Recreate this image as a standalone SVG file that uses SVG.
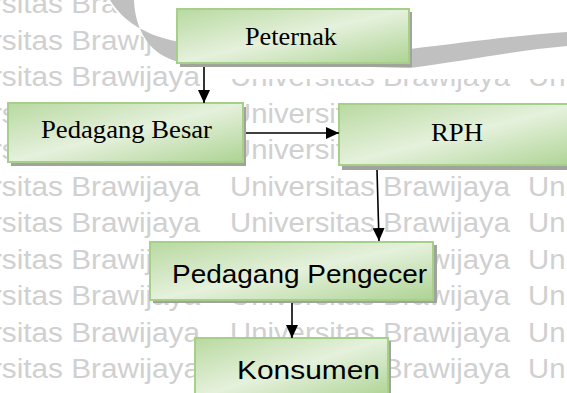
<svg xmlns="http://www.w3.org/2000/svg" xmlns:xlink="http://www.w3.org/1999/xlink" width="567" height="393" viewBox="0 0 567 393">
<style>
.wm{font-family:"Liberation Sans",Arial,sans-serif;font-size:27px;fill:#d0d0d0}
.box{fill:url(#g);stroke:#a6cf8a;stroke-width:2}
.sh{fill:#a0a49a}
.tt{font-family:"Liberation Serif","Times New Roman",serif;font-size:26px;fill:#000}
.ta{font-family:"Liberation Sans",Arial,sans-serif;font-size:26px;fill:#000}
.cn{stroke:#000;stroke-width:1.6;fill:none;marker-end:url(#ah)}
</style>
<defs>
<linearGradient id="g" x1="0" y1="0" x2="1" y2="1">
<stop offset="0" stop-color="#b8d9a0"/>
<stop offset="0.5" stop-color="#e5f1dc"/>
<stop offset="1" stop-color="#add393"/>
</linearGradient>
<marker id="ah" markerWidth="13" markerHeight="12" refX="13" refY="6" orient="auto" markerUnits="userSpaceOnUse">
<path d="M0,0 L13,6 L0,12 Z" fill="#000"/>
</marker>
<g id="wmrow">
<text class="wm" x="-84" y="0" textLength="284" lengthAdjust="spacingAndGlyphs">Universitas Brawijaya</text>
<text class="wm" x="230" y="0" textLength="280" lengthAdjust="spacingAndGlyphs">Universitas Brawijaya</text>
<text class="wm" x="528" y="0" textLength="280" lengthAdjust="spacingAndGlyphs">Universitas Brawijaya</text>
</g>
</defs>
<rect width="567" height="393" fill="#fff"/>
<g id="watermark">
<use xlink:href="#wmrow" y="13"/>
<use xlink:href="#wmrow" y="49.5"/>
<use xlink:href="#wmrow" y="86"/>
<use xlink:href="#wmrow" y="122.5"/>
<use xlink:href="#wmrow" y="159"/>
<use xlink:href="#wmrow" y="195.5"/>
<use xlink:href="#wmrow" y="232"/>
<use xlink:href="#wmrow" y="268.5"/>
<use xlink:href="#wmrow" y="305"/>
<use xlink:href="#wmrow" y="341.5"/>
<use xlink:href="#wmrow" y="378"/>
<path d="M108,0 C125,28 150,45 176,52 L176,64 L212,64 L212,79 L567,79 L567,0 Z" fill="#fff"/>
<path d="M110,0 C122,20 145,36 180,42 L410,49 C470,42 520,35 567,32 L567,46 C520,50 470,60 410,68 L180,62 C150,56 135,30 134,0 Z" fill="#c0c0c0"/>
</g>
<g id="n-peternak">
<rect class="sh" x="180" y="12" width="232" height="55"/>
<rect class="box" x="177" y="9" width="232" height="54"/>
<text class="tt" x="245" y="45" textLength="92" lengthAdjust="spacingAndGlyphs">Peternak</text>
</g>
<g id="n-pedagang-besar">
<rect class="sh" x="11" y="107" width="235" height="59"/>
<rect class="box" x="8" y="103" width="235" height="59"/>
<text class="tt" x="41" y="138" textLength="171" lengthAdjust="spacingAndGlyphs">Pedagang Besar</text>
</g>
<g id="n-rph">
<rect class="sh" x="342" y="109" width="240" height="61"/>
<rect class="box" x="339" y="104" width="240" height="61"/>
<text class="tt" x="431" y="141" textLength="52" lengthAdjust="spacingAndGlyphs">RPH</text>
</g>
<g id="n-pedagang-pengecer">
<rect class="sh" x="153" y="245" width="284" height="58"/>
<rect class="box" x="150" y="242" width="283" height="58"/>
<text class="ta" x="172" y="283" textLength="255" lengthAdjust="spacingAndGlyphs">Pedagang Pengecer</text>
</g>
<g id="n-konsumen">
<rect class="sh" x="198" y="341" width="193" height="60"/>
<rect class="box" x="195" y="338" width="193" height="60"/>
<text class="ta" x="237" y="379" textLength="143" lengthAdjust="spacingAndGlyphs">Konsumen</text>
</g>
<g id="connectors">
<path class="cn" d="M204,67 L204,103"/>
<path class="cn" d="M246,133 L339,133"/>
<path class="cn" d="M377,170 L379,241"/>
<path class="cn" d="M292,303 L292,338"/>
</g>
</svg>
